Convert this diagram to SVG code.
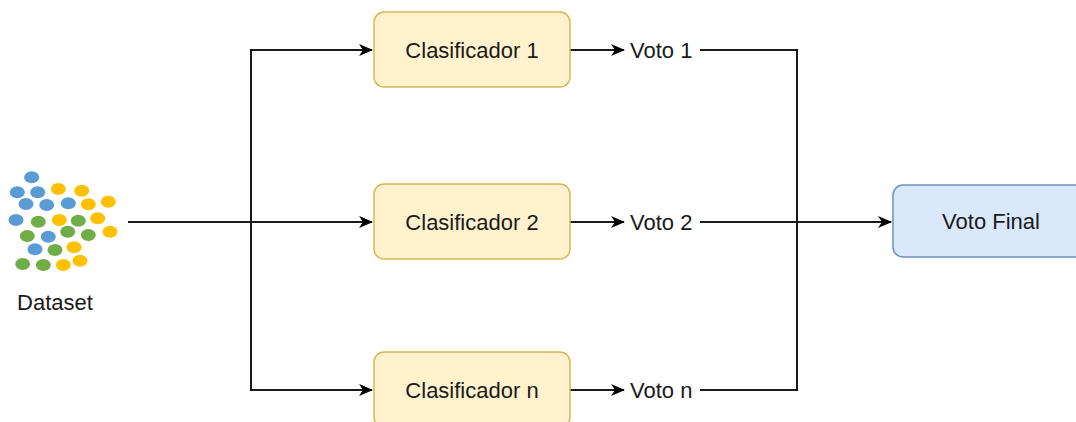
<svg xmlns="http://www.w3.org/2000/svg" width="1076" height="422" viewBox="0 0 1076 422">
  <style>
    .lbl { font-family: "Liberation Sans", Arial, sans-serif; font-size: 22px; fill: #1a1a1a; }
    .clf { fill: #fff2cc; stroke: #d6b656; stroke-width: 1.5; }
    .fin { fill: #dae8fc; stroke: #6c8ebf; stroke-width: 1.5; }
    .edge { fill: none; stroke: #1a1a1a; stroke-width: 2; }
    .b { fill: #5b9bd5; }
    .y { fill: #ffc000; }
    .g { fill: #70ad47; }
  </style>
  <defs>
    <marker id="arrow" viewBox="0 0 14 12" refX="13" refY="6" markerWidth="14" markerHeight="12" markerUnits="userSpaceOnUse" orient="auto">
      <path d="M0,0 L14,6 L0,12 L4,6 Z" fill="#000"/>
    </marker>
  </defs>
  <rect width="1076" height="422" fill="#ffffff"/>

  <g id="connectors">
    <!-- dataset fan-out -->
    <path class="edge" d="M128,222 H372" marker-end="url(#arrow)"/>
    <path class="edge" d="M251,222 V50 H372" marker-end="url(#arrow)"/>
    <path class="edge" d="M251,222 V390 H372" marker-end="url(#arrow)"/>
    <!-- classifier to vote -->
    <path class="edge" d="M570,50 H624" marker-end="url(#arrow)"/>
    <path class="edge" d="M570,222 H624" marker-end="url(#arrow)"/>
    <path class="edge" d="M570,390 H624" marker-end="url(#arrow)"/>
    <!-- votes merge -->
    <path class="edge" d="M700,50 H797 V390 H700"/>
    <path class="edge" d="M700,222 H891" marker-end="url(#arrow)"/>
  </g>

  <g id="dataset">
    <ellipse class="b" cx="31.7" cy="177.3" rx="7.5" ry="6"/>
    <ellipse class="b" cx="17.3" cy="192.3" rx="7.5" ry="6"/>
    <ellipse class="b" cx="37.7" cy="192.3" rx="7.5" ry="6"/>
    <ellipse class="y" cx="58.3" cy="189" rx="7.5" ry="6"/>
    <ellipse class="y" cx="81.7" cy="190.7" rx="7.5" ry="6"/>
    <ellipse class="b" cx="26" cy="204" rx="7.5" ry="6"/>
    <ellipse class="b" cx="46.7" cy="205" rx="7.5" ry="6"/>
    <ellipse class="b" cx="68.3" cy="203.3" rx="7.5" ry="6"/>
    <ellipse class="y" cx="88.3" cy="204.3" rx="7.5" ry="6"/>
    <ellipse class="y" cx="108.3" cy="201.7" rx="7.5" ry="6"/>
    <ellipse class="b" cx="16" cy="220" rx="7.5" ry="6"/>
    <ellipse class="g" cx="38.3" cy="221.7" rx="7.5" ry="6"/>
    <ellipse class="y" cx="59.3" cy="220" rx="7.5" ry="6"/>
    <ellipse class="g" cx="78.3" cy="220.7" rx="7.5" ry="6"/>
    <ellipse class="y" cx="97.7" cy="218.3" rx="7.5" ry="6"/>
    <ellipse class="g" cx="27.3" cy="236" rx="7.5" ry="6"/>
    <ellipse class="b" cx="48.3" cy="236.7" rx="7.5" ry="6"/>
    <ellipse class="g" cx="67.7" cy="231.7" rx="7.5" ry="6"/>
    <ellipse class="g" cx="88.3" cy="235" rx="7.5" ry="6"/>
    <ellipse class="y" cx="110" cy="231.7" rx="7.5" ry="6"/>
    <ellipse class="b" cx="35" cy="249.3" rx="7.5" ry="6"/>
    <ellipse class="g" cx="55" cy="250" rx="7.5" ry="6"/>
    <ellipse class="y" cx="74" cy="247.3" rx="7.5" ry="6"/>
    <ellipse class="g" cx="22.7" cy="264" rx="7.5" ry="6"/>
    <ellipse class="g" cx="43.3" cy="265" rx="7.5" ry="6"/>
    <ellipse class="y" cx="63.3" cy="265" rx="7.5" ry="6"/>
    <ellipse class="y" cx="80" cy="260.7" rx="7.5" ry="6"/>
    <text class="lbl" x="55" y="310" text-anchor="middle">Dataset</text>
  </g>

  <g id="clasificador-1">
    <rect class="clf" x="374" y="12" width="196" height="75" rx="10"/>
    <text class="lbl" x="472" y="58" text-anchor="middle">Clasificador 1</text>
  </g>
  <g id="clasificador-2">
    <rect class="clf" x="374" y="184" width="196" height="75" rx="10"/>
    <text class="lbl" x="472" y="230" text-anchor="middle">Clasificador 2</text>
  </g>
  <g id="clasificador-n">
    <rect class="clf" x="374" y="352" width="196" height="75" rx="10"/>
    <text class="lbl" x="472" y="398" text-anchor="middle">Clasificador n</text>
  </g>

  <g id="voto-1"><text class="lbl" x="630" y="58">Voto 1</text></g>
  <g id="voto-2"><text class="lbl" x="630" y="230">Voto 2</text></g>
  <g id="voto-n"><text class="lbl" x="630" y="398">Voto n</text></g>

  <g id="voto-final">
    <rect class="fin" x="893" y="185" width="196" height="72" rx="10"/>
    <text class="lbl" x="991" y="229" text-anchor="middle">Voto Final</text>
  </g>
</svg>
